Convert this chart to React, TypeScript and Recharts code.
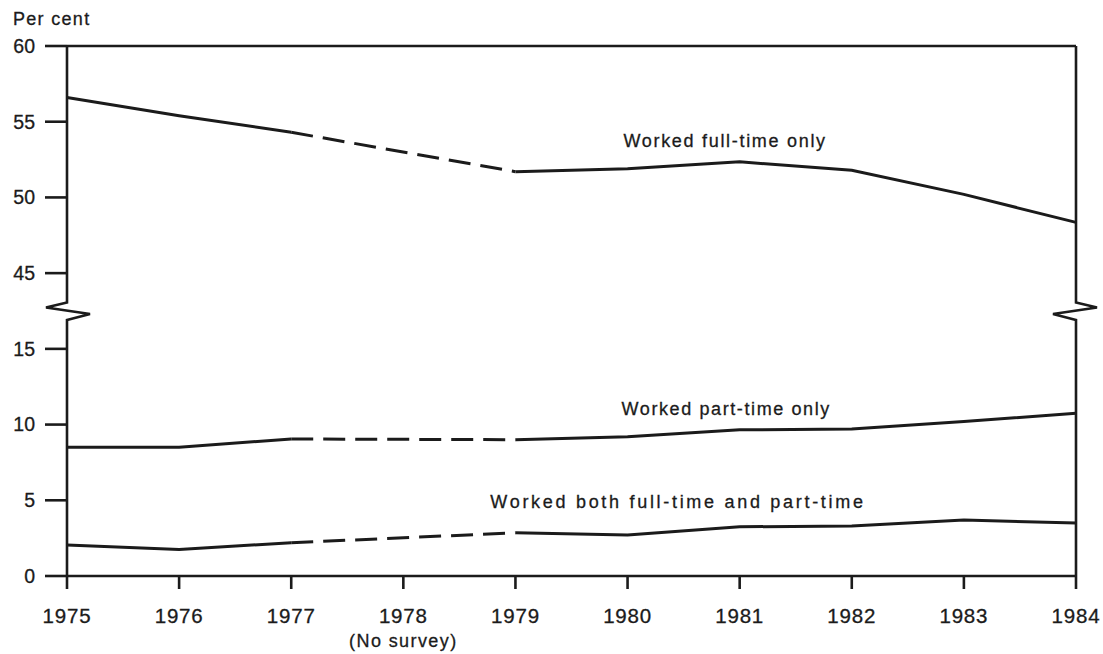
import { LineChart, Line, XAxis, YAxis, ReferenceLine, ReferenceDot } from 'recharts'

const years = [1975, 1976, 1977, 1978, 1979, 1980, 1981, 1982, 1983, 1984]
// 1978: no survey
const fullTimeOnly = [56.6, 55.4, 54.3, null, 51.7, 51.9, 52.35, 51.8, 50.2, 48.35]
const partTimeOnly = [8.5, 8.5, 9.05, null, 9.0, 9.2, 9.65, 9.7, 10.2, 10.75]
const bothFullAndPart = [2.05, 1.75, 2.2, null, 2.85, 2.7, 3.25, 3.3, 3.7, 3.5]
const yTickValues = [0, 5, 10, 15, 45, 50, 55, 60]
const noSurveyYear = 1978

const INK = '#1b1b1b'
const FONT = '"Liberation Sans", Arial, Helvetica, sans-serif'

// broken scale: 15..45 is squeezed into one tick interval
const BREAK_LOW = 15
const BREAK_HIGH = 45
const BREAK_GAP = 5
const toAxis = (v: number | null | undefined) =>
  v == null ? null : v <= BREAK_LOW ? v : v - (BREAK_HIGH - BREAK_LOW - BREAK_GAP)
const fromAxis = (t: number) => (t <= BREAK_LOW ? t : t + (BREAK_HIGH - BREAK_LOW - BREAK_GAP))

// keep only the points either side of a missing year, joined by a dashed line
const bridge = (vals: (number | null)[]) =>
  vals.map((v, i) => (v != null && (vals[i - 1] === null || vals[i + 1] === null) ? v : null))

const fullGap = bridge(fullTimeOnly)
const partGap = bridge(partTimeOnly)
const bothGap = bridge(bothFullAndPart)

const rows = years.map((year, i) => ({
  year,
  full: fullTimeOnly[i],
  fullGap: fullGap[i],
  part: partTimeOnly[i],
  partGap: partGap[i],
  both: bothFullAndPart[i],
  bothGap: bothGap[i],
}))

const seriesLabels = [
  { text: 'Worked full-time only', year: 1980.87, value: 53.3, spacing: 1.7 },
  { text: 'Worked part-time only', year: 1980.88, value: 10.63, spacing: 1.6 },
  { text: 'Worked both full-time and part-time', year: 1980.45, value: 4.49, spacing: 2.7 },
]

const series = ['full', 'part', 'both']

function YearTick({ x, y, payload }: any) {
  return (
    <g fill={INK} stroke={INK} strokeWidth={0.3}>
      <text x={x} y={y} dy="0.71em" textAnchor="middle" fontSize={20.5} letterSpacing={0.8}>
        {payload.value}
      </text>
      {payload.value === noSurveyYear && (
        <text x={x} y={y + 39} textAnchor="middle" fontSize={18} letterSpacing={1.4}>
          (No survey)
        </text>
      )}
    </g>
  )
}

// vertical axis line with the zigzag break drawn across it
const axisWithBreak = (side: 1 | -1) => (p: any) => {
  const x = p.x1
  const top = Math.min(p.y1, p.y2)
  const bottom = Math.max(p.y1, p.y2)
  const yb = (top + bottom) / 2
  const d = `M${x},${top} L${x},${yb - 8.5} L${x - 21 * side},${yb - 3.5} L${x + 23 * side},${yb + 3} L${x},${yb + 9} L${x},${bottom}`
  return <path d={d} fill="none" stroke={INK} strokeWidth={2.6} strokeLinejoin="miter" />
}

export default function App() {
  const axisTicks = yTickValues.map((v) => toAxis(v) as number)
  return (
    <div style={{ position: 'absolute', left: 0, top: 0, width: 1103, height: 654, background: '#fff', fontFamily: FONT }}>
      <div
        style={{
          position: 'absolute',
          left: 13,
          top: 10,
          fontSize: 18,
          lineHeight: '18px',
          letterSpacing: 1.3,
          color: INK,
          WebkitTextStroke: '0.3px ' + INK,
        }}
      >
        Per cent
      </div>
      <LineChart width={1103} height={654} data={rows} margin={{ top: 46, right: 0, bottom: 0, left: 0 }}>
        <XAxis
          dataKey="year"
          type="number"
          domain={[1975, 1984]}
          ticks={years}
          interval={0}
          height={78}
          tickSize={13}
          tickMargin={19}
          stroke={INK}
          axisLine={{ stroke: INK, strokeWidth: 2.6 }}
          tickLine={{ stroke: INK, strokeWidth: 2.6 }}
          tick={<YearTick />}
        />
        <YAxis
          domain={[0, 35]}
          ticks={axisTicks}
          interval={0}
          width={67}
          tickSize={22}
          tickMargin={10}
          axisLine={false}
          tickLine={{ stroke: INK, strokeWidth: 2.6 }}
          tick={{ fill: INK, stroke: INK, strokeWidth: 0.3, fontSize: 19.5 }}
          tickFormatter={(t: number) => String(fromAxis(t))}
        />
        <YAxis
          yAxisId="right"
          orientation="right"
          domain={[0, 35]}
          ticks={axisTicks}
          interval={0}
          width={27}
          tickSize={22}
          axisLine={false}
          tickLine={{ stroke: INK, strokeWidth: 2.6 }}
          tickFormatter={() => ''}
        />
        <ReferenceLine y={35} stroke={INK} strokeWidth={2.6} />
        <ReferenceLine x={1975} shape={axisWithBreak(1)} />
        <ReferenceLine x={1984} shape={axisWithBreak(-1)} />

        {series.map((k) => (
          <Line
            key={k}
            type="linear"
            dataKey={(d: any) => toAxis(d[k])}
            stroke={INK}
            strokeWidth={3}
            dot={false}
            activeDot={false}
            isAnimationActive={false}
          />
        ))}
        {series.map((k) => (
          <Line
            key={k + 'Gap'}
            type="linear"
            dataKey={(d: any) => toAxis(d[k + 'Gap'])}
            connectNulls
            stroke={INK}
            strokeWidth={3}
            strokeDasharray="22 10"
            dot={false}
            activeDot={false}
            isAnimationActive={false}
          />
        ))}

        {seriesLabels.map((l) => (
          <ReferenceDot
            key={l.text}
            x={l.year}
            y={toAxis(l.value) as number}
            r={0}
            shape={(p: any) => (
              <text
                x={p.cx}
                y={p.cy}
                textAnchor="middle"
                fontSize={18}
                letterSpacing={l.spacing}
                fill={INK}
                stroke={INK}
                strokeWidth={0.3}
              >
                {l.text}
              </text>
            )}
          />
        ))}
      </LineChart>
    </div>
  )
}
